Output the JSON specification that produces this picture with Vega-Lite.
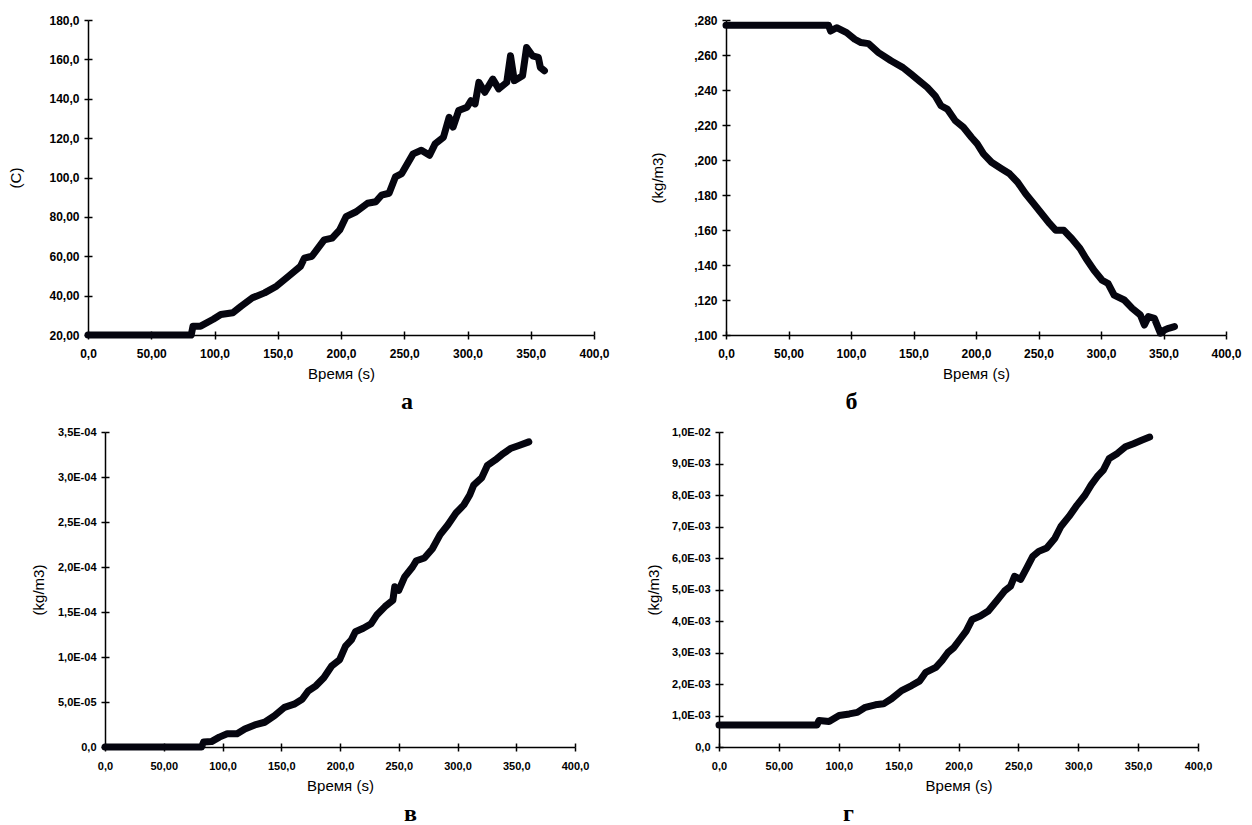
{
  "$schema": "https://vega.github.io/schema/vega-lite/v6.json",
  "background": "white",
  "padding": {"left": 8, "top": 14, "right": 5, "bottom": 5},
  "datasets": {
    "a": [
      {"t": 0, "v": 20}, {"t": 20, "v": 20}, {"t": 40, "v": 20}, {"t": 60, "v": 20}, {"t": 81.6, "v": 20},
      {"t": 83, "v": 24.5}, {"t": 89, "v": 24.5}, {"t": 99, "v": 28}, {"t": 105, "v": 30.4}, {"t": 114.5, "v": 31.3},
      {"t": 121, "v": 34.6}, {"t": 130, "v": 38.9}, {"t": 139.6, "v": 41.4}, {"t": 149, "v": 44.8}, {"t": 158.4, "v": 49.8},
      {"t": 168, "v": 54.9}, {"t": 171, "v": 59}, {"t": 177, "v": 60}, {"t": 186.7, "v": 68.3}, {"t": 193, "v": 69.2},
      {"t": 199, "v": 73.4}, {"t": 204, "v": 80.1}, {"t": 212, "v": 82.6}, {"t": 221, "v": 86.9}, {"t": 227.5, "v": 87.7},
      {"t": 232, "v": 91}, {"t": 238, "v": 92}, {"t": 243, "v": 100.3}, {"t": 248, "v": 102}, {"t": 257, "v": 112},
      {"t": 263.5, "v": 113.8}, {"t": 270, "v": 111.3}, {"t": 274.5, "v": 117.2}, {"t": 281, "v": 120.5}, {"t": 285.5, "v": 130.6},
      {"t": 288.6, "v": 125.6}, {"t": 293, "v": 134}, {"t": 299.6, "v": 135.7}, {"t": 302.7, "v": 139}, {"t": 306, "v": 137.4},
      {"t": 309, "v": 148.3}, {"t": 313.7, "v": 143.3}, {"t": 320, "v": 150}, {"t": 324.7, "v": 145}, {"t": 331, "v": 148.3},
      {"t": 334, "v": 161.8}, {"t": 337, "v": 149.2}, {"t": 343.5, "v": 151.7}, {"t": 346.7, "v": 166}, {"t": 351.4, "v": 161.8},
      {"t": 356, "v": 161}, {"t": 357.6, "v": 155.9}, {"t": 360.8, "v": 154.2}
    ],
    "b": [
      {"t": 0, "v": 0.277}, {"t": 20, "v": 0.277}, {"t": 40, "v": 0.277}, {"t": 60, "v": 0.277}, {"t": 82, "v": 0.277},
      {"t": 83.7, "v": 0.2737}, {"t": 88.5, "v": 0.2756}, {"t": 96.5, "v": 0.2728}, {"t": 103, "v": 0.269}, {"t": 108, "v": 0.2671},
      {"t": 114, "v": 0.2665}, {"t": 122, "v": 0.2614}, {"t": 132, "v": 0.2567}, {"t": 141.6, "v": 0.2528}, {"t": 148, "v": 0.2491},
      {"t": 154.5, "v": 0.2453}, {"t": 161, "v": 0.2415}, {"t": 167.3, "v": 0.2367}, {"t": 172, "v": 0.231}, {"t": 177, "v": 0.2291},
      {"t": 183.4, "v": 0.2225}, {"t": 189.9, "v": 0.2187}, {"t": 196.3, "v": 0.213}, {"t": 201, "v": 0.2092}, {"t": 206, "v": 0.2035},
      {"t": 212.4, "v": 0.1987}, {"t": 220.4, "v": 0.195}, {"t": 226.9, "v": 0.1921}, {"t": 233.3, "v": 0.1873}, {"t": 239.7, "v": 0.1807},
      {"t": 246.2, "v": 0.175}, {"t": 252.6, "v": 0.1693}, {"t": 259, "v": 0.1636}, {"t": 263.9, "v": 0.1598}, {"t": 270.3, "v": 0.1598},
      {"t": 276.7, "v": 0.155}, {"t": 283.2, "v": 0.1494}, {"t": 288, "v": 0.1437}, {"t": 294.4, "v": 0.137}, {"t": 300.9, "v": 0.1313},
      {"t": 305.7, "v": 0.1294}, {"t": 310.5, "v": 0.1228}, {"t": 318.6, "v": 0.12}, {"t": 325, "v": 0.1152}, {"t": 331.5, "v": 0.1114},
      {"t": 334.7, "v": 0.1057}, {"t": 337.9, "v": 0.1105}, {"t": 342.7, "v": 0.1095}, {"t": 347.5, "v": 0.101}, {"t": 350.8, "v": 0.1029},
      {"t": 354, "v": 0.1038}, {"t": 358.8, "v": 0.1048}
    ],
    "c": [
      {"t": 0, "v": 0}, {"t": 20, "v": 0}, {"t": 40, "v": 0}, {"t": 60, "v": 0}, {"t": 82.2, "v": 0},
      {"t": 83.9, "v": 0.0000055}, {"t": 90.6, "v": 0.000006}, {"t": 97.3, "v": 0.000011}, {"t": 104, "v": 0.0000147}, {"t": 112.4, "v": 0.0000147},
      {"t": 119, "v": 0.00002}, {"t": 127.5, "v": 0.0000245}, {"t": 135.9, "v": 0.0000275}, {"t": 144.3, "v": 0.0000348}, {"t": 152.7, "v": 0.000044},
      {"t": 161, "v": 0.0000476}, {"t": 167.8, "v": 0.000053}, {"t": 172.8, "v": 0.000062}, {"t": 179.5, "v": 0.000068}, {"t": 186.2, "v": 0.000077},
      {"t": 192.9, "v": 0.00009}, {"t": 199.7, "v": 0.000097}, {"t": 204.7, "v": 0.000112}, {"t": 209.7, "v": 0.000119}, {"t": 213.1, "v": 0.000128},
      {"t": 219.8, "v": 0.000132}, {"t": 226.5, "v": 0.000137}, {"t": 231.5, "v": 0.000147}, {"t": 238.3, "v": 0.000156}, {"t": 245, "v": 0.000163},
      {"t": 246.6, "v": 0.000178}, {"t": 250, "v": 0.000174}, {"t": 255, "v": 0.000189}, {"t": 261.7, "v": 0.0002}, {"t": 265, "v": 0.000207},
      {"t": 271.8, "v": 0.00021}, {"t": 278.5, "v": 0.00022}, {"t": 285.2, "v": 0.000236}, {"t": 291.9, "v": 0.000247}, {"t": 298.7, "v": 0.00026},
      {"t": 305.4, "v": 0.000269}, {"t": 310.4, "v": 0.00028}, {"t": 313.8, "v": 0.000291}, {"t": 320.5, "v": 0.000299}, {"t": 325.5, "v": 0.000313},
      {"t": 332.2, "v": 0.000319}, {"t": 338.9, "v": 0.000326}, {"t": 345.6, "v": 0.000332}, {"t": 352.3, "v": 0.000335}, {"t": 360.7, "v": 0.000339}
    ],
    "d": [
      {"t": 0, "v": 0.0007}, {"t": 20, "v": 0.0007}, {"t": 40, "v": 0.0007}, {"t": 60, "v": 0.0007}, {"t": 81.8, "v": 0.0007},
      {"t": 83.5, "v": 0.00084}, {"t": 91.9, "v": 0.00081}, {"t": 100.3, "v": 0.001}, {"t": 108.8, "v": 0.00105}, {"t": 115.5, "v": 0.0011},
      {"t": 122.2, "v": 0.00126}, {"t": 130.6, "v": 0.00134}, {"t": 137.4, "v": 0.00137}, {"t": 144.1, "v": 0.00153}, {"t": 152.5, "v": 0.00179},
      {"t": 160.9, "v": 0.00195}, {"t": 167.7, "v": 0.0021}, {"t": 172.7, "v": 0.00237}, {"t": 181.1, "v": 0.00253}, {"t": 186.2, "v": 0.00274},
      {"t": 191.2, "v": 0.003}, {"t": 196.2, "v": 0.00316}, {"t": 201.3, "v": 0.00342}, {"t": 206.4, "v": 0.00368}, {"t": 211.4, "v": 0.00405},
      {"t": 218.2, "v": 0.00416}, {"t": 224.9, "v": 0.00432}, {"t": 231.6, "v": 0.00463}, {"t": 238.4, "v": 0.00495}, {"t": 243.4, "v": 0.0051},
      {"t": 246.8, "v": 0.00542}, {"t": 251.9, "v": 0.00532}, {"t": 256.9, "v": 0.00568}, {"t": 262, "v": 0.00605}, {"t": 267, "v": 0.00621},
      {"t": 273.7, "v": 0.00632}, {"t": 280.5, "v": 0.00663}, {"t": 285.5, "v": 0.007}, {"t": 292.3, "v": 0.00732}, {"t": 299, "v": 0.00768},
      {"t": 305.7, "v": 0.008}, {"t": 310.8, "v": 0.00832}, {"t": 315.8, "v": 0.00858}, {"t": 320.9, "v": 0.00879}, {"t": 325.9, "v": 0.00916},
      {"t": 332.7, "v": 0.00932}, {"t": 339.4, "v": 0.00953}, {"t": 346.1, "v": 0.00963}, {"t": 352.9, "v": 0.00974}, {"t": 359.6, "v": 0.00984}
    ]
  },
  "config": {
    "view": {"stroke": null},
    "axis": {
      "grid": false,
      "labelFont": "Liberation Sans",
      "labelColor": "#000",
      "labelFontSize": 12,
      "labelFontWeight": "bold",
      "labelFlush": false,
      "labelOverlap": false,
      "titleFont": "Liberation Sans",
      "titleFontSize": 15,
      "titleFontWeight": "normal",
      "titleColor": "#000",
      "domainColor": "#000",
      "domainWidth": 1.5,
      "tickColor": "#000",
      "tickWidth": 1.5,
      "tickSize": 4,
      "labelPadding": 5
    },
    "axisX": {"titlePadding": 7, "labelPadding": 9},
    "title": {
      "font": "Liberation Serif",
      "fontSize": 24,
      "fontWeight": "bold",
      "color": "#000",
      "orient": "bottom",
      "anchor": "middle",
      "frame": "group",
      "offset": 9
    },
    "line": {"color": "#05050f", "strokeWidth": 7, "strokeCap": "round", "strokeJoin": "round"}
  },
  "spacing": 36,
  "hconcat": [
    {
      "bounds": "flush",
      "spacing": 97,
      "vconcat": [
        {
          "width": 506,
          "height": 315,
          "title": {"text": "а", "dx": 66},
          "data": {"name": "a"},
          "resolve": {"axis": {"x": "independent", "y": "independent"}},
          "layer": [
            {
              "mark": {"type": "line", "strokeOpacity": 0},
              "encoding": {
                "x": {"field": "t", "type": "quantitative", "axis": {"orient": "bottom", "values": [0, 50, 100, 150, 200, 250, 300, 350, 400], "tickSize": -4, "labels": false, "domain": false, "title": null}},
                "y": {"field": "v", "type": "quantitative", "axis": {"orient": "left", "values": [20, 40, 60, 80, 100, 120, 140, 160, 180], "tickSize": -4, "labels": false, "domain": false, "title": null}}
              }
            },
            {
              "mark": {"type": "line"},
              "encoding": {
                "x": {
                  "field": "t", "type": "quantitative",
                  "scale": {"domain": [0, 400], "nice": false},
                  "axis": {
                    "orient": "bottom",
                    "values": [0, 50, 100, 150, 200, 250, 300, 350, 400],
                    "title": "Время (s)",
                    "labelExpr": "datum.value == 0 ? '0,0' : datum.value == 50 ? '50,00' : replace(format(datum.value, '.1f'), '.', ',')"
                  }
                },
                "y": {
                  "field": "v", "type": "quantitative",
                  "scale": {"domain": [20, 180], "nice": false, "zero": false},
                  "axis": {
                    "orient": "left",
                    "values": [20, 40, 60, 80, 100, 120, 140, 160, 180],
                    "title": "(C)",
                    "titlePadding": 25,
                    "labelExpr": "datum.value < 100 ? replace(format(datum.value, '.2f'), '.', ',') : replace(format(datum.value, '.1f'), '.', ',')"
                  }
                }
              }
            }
          ]
        },
        {
          "width": 487,
          "height": 315,
          "title": {"text": "в", "dx": 79},
          "data": {"name": "c"},
          "resolve": {"axis": {"x": "independent", "y": "independent"}},
          "layer": [
            {
              "mark": {"type": "line", "strokeOpacity": 0},
              "encoding": {
                "x": {"field": "t", "type": "quantitative", "axis": {"orient": "bottom", "values": [0, 50, 100, 150, 200, 250, 300, 350, 400], "tickSize": -4, "labels": false, "domain": false, "title": null}},
                "y": {"field": "v", "type": "quantitative", "axis": {"orient": "left", "offset": -17, "values": [0, 0.00005, 0.0001, 0.00015, 0.0002, 0.00025, 0.0003, 0.00035], "tickSize": -4, "labels": false, "domain": false, "title": null}}
              }
            },
            {
              "mark": {"type": "line"},
              "encoding": {
                "x": {
                  "field": "t", "type": "quantitative",
                  "scale": {"domain": [0, 400], "nice": false, "range": [17, 487]},
                  "axis": {
                    "orient": "bottom",
                    "values": [0, 50, 100, 150, 200, 250, 300, 350, 400],
                    "title": "Время (s)",
                    "labelFontSize": 11,
                    "labelExpr": "datum.value == 0 ? '0,0' : datum.value == 50 ? '50,00' : replace(format(datum.value, '.1f'), '.', ',')"
                  }
                },
                "y": {
                  "field": "v", "type": "quantitative",
                  "scale": {"domain": [0, 0.00035], "nice": false},
                  "axis": {
                    "orient": "left",
                    "offset": -17,
                    "values": [0, 0.00005, 0.0001, 0.00015, 0.0002, 0.00025, 0.0003, 0.00035],
                    "title": "(kg/m3)",
                    "titlePadding": 11,
                    "labelFontSize": 11,
                    "labelExpr": "datum.value == 0 ? '0,0' : replace(replace(format(datum.value, '.1e'), '.', ','), 'e-', 'E-0')"
                  }
                }
              }
            }
          ]
        }
      ]
    },
    {
      "bounds": "flush",
      "spacing": 97,
      "vconcat": [
        {
          "width": 507,
          "height": 315,
          "title": {"text": "б", "dx": -121},
          "data": {"name": "b"},
          "resolve": {"axis": {"x": "independent", "y": "independent"}},
          "layer": [
            {
              "mark": {"type": "line", "strokeOpacity": 0},
              "encoding": {
                "x": {"field": "t", "type": "quantitative", "axis": {"orient": "bottom", "values": [0, 50, 100, 150, 200, 250, 300, 350, 400], "tickSize": -4, "labels": false, "domain": false, "title": null}},
                "y": {"field": "v", "type": "quantitative", "axis": {"orient": "left", "offset": -7, "values": [0.1, 0.12, 0.14, 0.16, 0.18, 0.2, 0.22, 0.24, 0.26, 0.28], "tickSize": -4, "labels": false, "domain": false, "title": null}}
              }
            },
            {
              "mark": {"type": "line"},
              "encoding": {
                "x": {
                  "field": "t", "type": "quantitative",
                  "scale": {"domain": [0, 400], "nice": false, "range": [7, 507]},
                  "axis": {
                    "orient": "bottom",
                    "values": [0, 50, 100, 150, 200, 250, 300, 350, 400],
                    "title": "Время (s)",
                    "labelExpr": "datum.value == 0 ? '0,0' : datum.value == 50 ? '50,00' : replace(format(datum.value, '.1f'), '.', ',')"
                  }
                },
                "y": {
                  "field": "v", "type": "quantitative",
                  "scale": {"domain": [0.1, 0.28], "nice": false, "zero": false},
                  "axis": {
                    "orient": "left",
                    "offset": -7,
                    "values": [0.1, 0.12, 0.14, 0.16, 0.18, 0.2, 0.22, 0.24, 0.26, 0.28],
                    "title": "(kg/m3)",
                    "titlePadding": 28,
                    "labelExpr": "replace(format(datum.value, '.3f'), '0.', ',')"
                  }
                }
              }
            }
          ]
        },
        {
          "width": 479,
          "height": 315,
          "title": {"text": "г", "dx": -110},
          "data": {"name": "d"},
          "resolve": {"axis": {"x": "independent", "y": "independent"}},
          "layer": [
            {
              "mark": {"type": "line", "strokeOpacity": 0},
              "encoding": {
                "x": {"field": "t", "type": "quantitative", "axis": {"orient": "bottom", "values": [0, 50, 100, 150, 200, 250, 300, 350, 400], "tickSize": -4, "labels": false, "domain": false, "title": null}},
                "y": {"field": "v", "type": "quantitative", "axis": {"orient": "left", "values": [0, 0.001, 0.002, 0.003, 0.004, 0.005, 0.006, 0.007, 0.008, 0.009, 0.01], "tickSize": -4, "labels": false, "domain": false, "title": null}}
              }
            },
            {
              "mark": {"type": "line"},
              "encoding": {
                "x": {
                  "field": "t", "type": "quantitative",
                  "scale": {"domain": [0, 400], "nice": false},
                  "axis": {
                    "orient": "bottom",
                    "values": [0, 50, 100, 150, 200, 250, 300, 350, 400],
                    "title": "Время (s)",
                    "labelFontSize": 11,
                    "labelExpr": "datum.value == 0 ? '0,0' : datum.value == 50 ? '50,00' : replace(format(datum.value, '.1f'), '.', ',')"
                  }
                },
                "y": {
                  "field": "v", "type": "quantitative",
                  "scale": {"domain": [0, 0.01], "nice": false},
                  "axis": {
                    "orient": "left",
                    "values": [0, 0.001, 0.002, 0.003, 0.004, 0.005, 0.006, 0.007, 0.008, 0.009, 0.01],
                    "title": "(kg/m3)",
                    "titlePadding": 10,
                    "labelFontSize": 11,
                    "labelExpr": "datum.value == 0 ? '0,0' : replace(replace(format(datum.value, '.1e'), '.', ','), 'e-', 'E-0')"
                  }
                }
              }
            }
          ]
        }
      ]
    }
  ]
}
